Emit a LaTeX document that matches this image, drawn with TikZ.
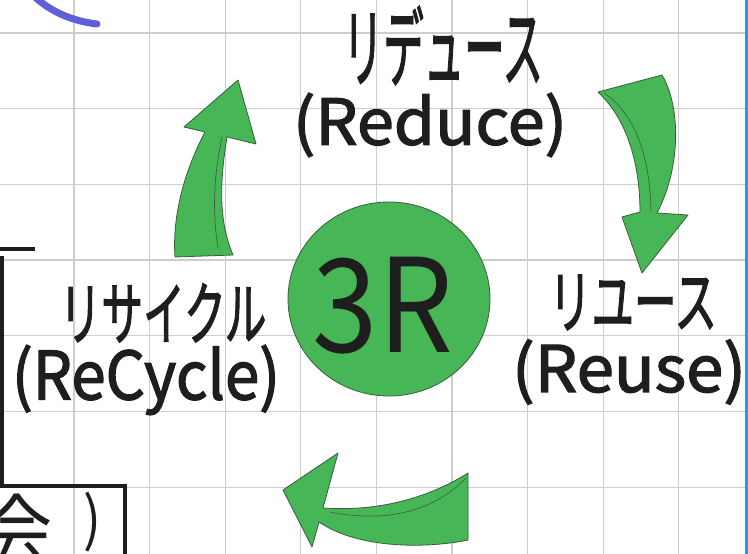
\documentclass[tikz,border=0pt]{standalone}
\usepackage{fontspec}
\usepackage{graphicx}
\usetikzlibrary{shapes.geometric}
\newfontfamily\jpf{Noto Sans CJK JP}
\newfontfamily\jpb[FakeBold=2]{Noto Sans CJK JP}
\newcommand{\kanabox}[1]{\raisebox{0pt}[0.80em][0.04em]{#1}}
\definecolor{gridc}{RGB}{205,205,205}
\definecolor{gfill}{RGB}{70,182,86}
\definecolor{gline}{RGB}{55,95,60}
\definecolor{inkc}{RGB}{30,30,30}
\definecolor{barc}{RGB}{95,95,215}
\definecolor{bedge}{RGB}{40,150,240}
\begin{document}
\begin{tikzpicture}[x=1pt,y=-1pt,
  gridline/.style={draw=gridc,line width=1.3pt},
  garrow/.style={fill=gfill,draw=gline,line width=0.8pt,line join=round},
  fold/.style={draw=gline,line width=0.6pt},
  txt/.style={inner sep=0pt,outer sep=0pt,text=inkc},
  frameline/.style={draw=inkc,line width=4pt}]
\useasboundingbox (0,0) rectangle (748,554);
\fill[white] (0,0) rectangle (748,554);
% grid paper
\foreach \i in {0,...,8} \draw[gridline] ({74+75.6*\i},0) -- ({74+75.6*\i},554);
\foreach \j in {0,...,6} \draw[gridline] (0,{33+75.7*\j}) -- (748,{33+75.7*\j});
% right blue edge
\draw[draw=bedge,line width=3pt] (746.5,0) -- (746.5,554);
% blue arc at top left
\draw[draw=barc,line width=7pt,line cap=round] (36,-2) .. controls (52,12) and (72,21) .. (97,24);
% black frame at left
\draw[frameline] (0,249) -- (35,249);
\draw[frameline] (1.5,256) -- (1.5,486) -- (125,486) -- (125,556);
\begin{scope}
  \clip (0,488) rectangle (123,554);
  \node[txt] (kai) at (18,530) {\resizebox*{70pt}{72pt}{\jpf 会}};
  \node[txt] (kaip) at (93,522) {\resizebox*{18pt}{60pt}{\jpf )}};
\end{scope}
% centre circle
\node[ellipse,garrow,minimum width=202pt,minimum height=194pt,inner sep=0pt] (core) at (389,299) {};
\node[txt] (three) at (383,306) {\resizebox*{140pt}{97pt}{\jpf 3R}};
% top-right arrow (down)
\draw[garrow] (598,92) -- (662,75) .. controls (680,105) and (682,165) .. (657,213)
  -- (688,215) -- (642,273) -- (622,217) -- (640,212)
  .. controls (640,170) and (630,122) .. (598,92) -- cycle;
\draw[fold] (604,93) .. controls (632,112) and (650,150) .. (651,212);
% bottom arrow (left)
\draw[garrow] (283,490) -- (338,453) -- (323,508) .. controls (380,512) and (430,497) .. (468,473)
  -- (468,540) .. controls (430,548) and (360,550) .. (319,522) -- (312,547) -- cycle;
\draw[fold] (330,512) .. controls (380,522) and (430,515) .. (466,478);
% left arrow (up)
\draw[garrow] (175,257) .. controls (172,215) and (185,170) .. (205,132)
  -- (184,127) -- (238,80) -- (256,144) -- (227,137)
  .. controls (220,180) and (218,220) .. (233,255) -- cycle;
\draw[fold] (218,248) .. controls (212,210) and (214,175) .. (222,137);
% labels
\node[txt] (reduceJ) at (443,47) {\resizebox*{200pt}{73pt}{\jpb\kanabox{リデュース}}};
\node[txt] (reduceE) at (430,125) {\resizebox*{274pt}{64pt}{\jpb (Reduce)}};
\node[txt] (recycleJ) at (163,313) {\resizebox*{207pt}{58pt}{\jpb\kanabox{リサイクル}}};
\node[txt] (recycleE) at (146,380) {\resizebox*{268pt}{70pt}{\jpb (ReCycle)}};
\node[txt] (reuseJ) at (633,301) {\resizebox*{168pt}{58pt}{\jpb\kanabox{リユース}}};
\node[txt] (reuseE) at (629,372) {\resizebox*{234pt}{65pt}{\jpb (Reuse)}};
\end{tikzpicture}
\end{document}
